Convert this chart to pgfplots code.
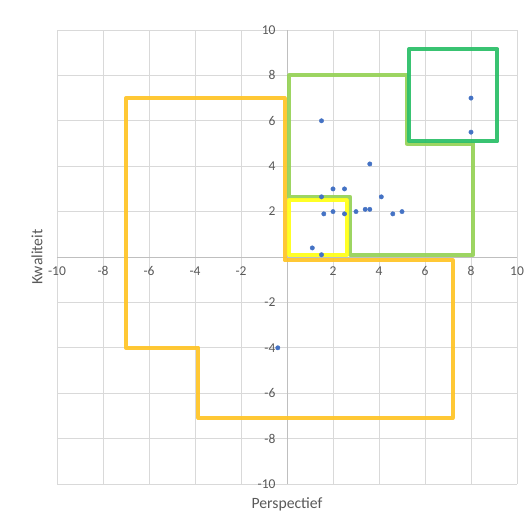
\documentclass[border=0pt]{standalone}
\usepackage{pgfplots}
\pgfplotsset{compat=1.18}
\usepackage{fontspec}
\setmainfont{Carlito}
\definecolor{gridc}{HTML}{D9D9D9}
\definecolor{axc}{HTML}{BFBFBF}
\definecolor{txt}{HTML}{595959}
\definecolor{pts}{HTML}{4472C4}
\definecolor{oranje}{HTML}{FFC52A}
\definecolor{lgroen}{HTML}{98D35A}
\definecolor{geel}{HTML}{FFFF1A}
\definecolor{dgroen}{HTML}{2EC06A}
\begin{document}
\begin{tikzpicture}
\path[use as bounding box] (-57pt,-36pt) rectangle (469pt,484pt);
\begin{axis}[
  at={(0,0)}, anchor=south west,
  scale only axis, width=460pt, height=454pt,
  xmin=-10, xmax=10, ymin=-10, ymax=10,
  axis lines=center,
  axis line style={draw=axc, line width=0.8pt, -},
  xtick={-10,-8,...,10}, ytick={-10,-8,...,10},
  xticklabels={-10,-8,-6,-4,-2,0,2,4,6,8,10},
  yticklabels={-10,-8,-6,-4,-2,0,2,4,6,8,10},
  major tick length=0pt,
  grid=major,
  major grid style={draw=gridc, line width=0.8pt},
  ticklabel style={font=\fontsize{13.5}{15}\selectfont, text=txt},
  xticklabel style={yshift=-6pt},
  yticklabel style={xshift=-8pt},
  clip=false,
  xlabel={Perspectief}, ylabel={Kwaliteit},
  label style={font=\fontsize{15.7}{18}\selectfont, text=txt},
  xlabel style={at={(axis description cs:0.5,0)}, anchor=north, yshift=-10pt},
  ylabel style={at={(axis description cs:0,0.5)}, anchor=south, rotate=90, xshift=0pt, yshift=11pt},
]
\addplot[only marks, mark=*, mark size=2.2pt, color=pts, mark options={draw=pts, fill=pts}] coordinates {
(1.5,6) (3.6,4.1) (2,3) (2.5,3) (4.1,2.65) (1.5,2.65) (1.6,1.9) (2,2) (2.5,1.9)
(3,2) (3.4,2.1) (3.6,2.1) (4.6,1.9) (5,2) (1.1,0.4) (1.5,0.1) (8,7) (8,5.5) (-0.4,-4)
};
\addplot[draw=oranje, line width=4pt, line join=round, opacity=0.95] coordinates {
(-7,7) (-0.1,7) (-0.1,-0.15) (7.2,-0.15) (7.2,-7.1) (-3.85,-7.1) (-3.85,-4) (-7,-4) (-7,7) (-0.1,7)
};
\addplot[draw=lgroen, line width=4pt, line join=round, opacity=0.95] coordinates {
(0.1,8) (5.2,8) (5.2,5) (8.1,5) (8.1,0.1) (2.75,0.1) (2.75,2.65) (0.1,2.65) (0.1,8) (5.2,8)
};
\addplot[draw=geel, line width=4pt, line join=round, opacity=0.95] coordinates {
(0.1,0.1) (2.6,0.1) (2.6,2.5) (0.1,2.5) (0.1,0.1) (2.6,0.1)
};
\addplot[draw=dgroen, line width=4pt, line join=round, opacity=0.95] coordinates {
(5.3,5.1) (9.15,5.1) (9.15,9.15) (5.3,9.15) (5.3,5.1) (9.15,5.1)
};
\end{axis}
\end{tikzpicture}
\end{document}
